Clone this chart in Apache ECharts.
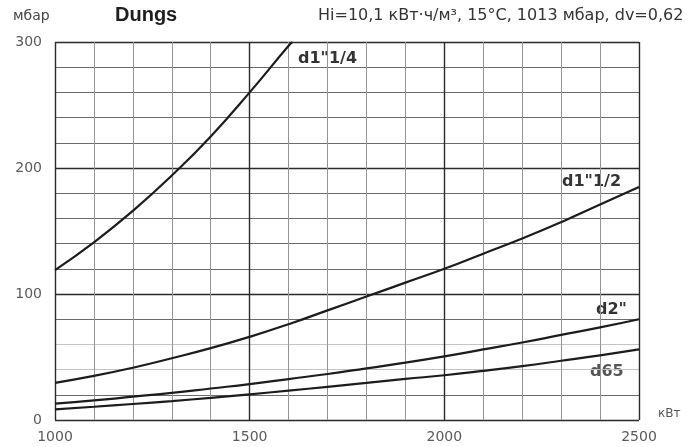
<!DOCTYPE html>
<html>
<head>
<meta charset="utf-8">
<script src="https://cdn.jsdelivr.net/npm/echarts@6/dist/echarts.min.js"></script>
<style>
  html, body { margin: 0; padding: 0; background: #fff; }
  #chart { width: 699px; height: 447px; }
</style>
</head>
<body>
<div id="chart"></div>
<script>
// Gas flow (kW) at which each pressure drop (mbar) was measured
const flow = [1000, 1100, 1200, 1300, 1400, 1500, 1600, 1700, 1800, 1900, 2000, 2100, 2200, 2300, 2400, 2500];

// Pressure drop per fitting size, mbar
const d1_14 = [119, 141, 166, 194, 225, 260, 297];
const d1_14End = [1610, 300];
const d1_12 = [29.5, 35, 41.5, 49, 57, 66, 76, 87, 98, 109, 120, 132, 144, 157, 171, 185];
const d2 = [13, 15.5, 18.5, 21.5, 25, 28.5, 32.5, 36.5, 41, 45.5, 50.5, 56, 61.5, 67.5, 73.5, 80];
const d65 = [8.5, 10.5, 12.7, 15, 17.6, 20.4, 23.3, 26.3, 29.4, 32.6, 35.5, 39, 42.8, 47, 51.3, 56];

const seriesNames = ['d1"1/4', 'd1"1/2', 'd2"', 'd65'];
const xTicks = [1000, 1500, 2000, 2500];
const yTicks = [0, 100, 200, 300];

function pairs(values) {
  return values.map((v, i) => [flow[i], v]);
}

const chart = echarts.init(document.getElementById('chart'), null, { renderer: 'canvas' });

const grid = { left: 55, right: 60, top: 42, bottom: 27, containLabel: false };

// minor grid colours, cycled per tick
const xMinorColors = flow.map((f, i) => (i % 5 === 0 ? '#333' : '#949494'));
const yMinorColors = [];
for (let v = 0; v <= 300; v += 20) {
  if (v % 100 === 0) yMinorColors.push('#333');
  else if (v === 40 || v === 60) yMinorColors.push('#c4c4c4');
  else yMinorColors.push('#6a6a6a');
}

const labelFont = { color: '#5a5a5a', fontFamily: 'DejaVu Sans', fontSize: 14 };

const lineStyle = { color: '#1c1c1c', width: 2.2 };

function lineSeries(name, data) {
  return {
    name: name,
    type: 'line',
    xAxisIndex: 1,
    yAxisIndex: 1,
    data: data,
    smooth: 0.5,
    showSymbol: false,
    lineStyle: lineStyle,
    z: 5
  };
}

chart.setOption({
  animation: false,
  backgroundColor: '#fff',
  grid: grid,
  xAxis: [
    {
      type: 'value', position: 'bottom', min: 1000, max: 2500, interval: 100,
      axisLine: { show: false }, axisTick: { show: false }, axisLabel: { show: false },
      splitLine: { show: true, lineStyle: { color: xMinorColors, width: 1 } }
    },
    {
      type: 'value', position: 'bottom', min: 1000, max: 2500, interval: 500,
      axisLine: { show: false }, axisTick: { show: false },
      axisLabel: Object.assign({ margin: 10, formatter: v => (xTicks.includes(v) ? String(v) : '') }, labelFont),
      splitLine: { show: true, lineStyle: { color: '#2a2a2a', width: 1.4 } }
    }
  ],
  yAxis: [
    {
      type: 'value', position: 'left', min: 0, max: 300, interval: 20,
      axisLine: { show: false }, axisTick: { show: false }, axisLabel: { show: false },
      splitLine: { show: true, lineStyle: { color: yMinorColors, width: 1 } }
    },
    {
      type: 'value', position: 'left', min: 0, max: 300, interval: 100,
      axisLine: { show: false }, axisTick: { show: false },
      axisLabel: Object.assign({ margin: 13, formatter: v => (yTicks.includes(v) ? String(v) : '') }, labelFont),
      splitLine: { show: true, lineStyle: { color: '#2a2a2a', width: 1.4 } }
    }
  ],
  series: [
    lineSeries(seriesNames[0], pairs(d1_14).concat([d1_14End])),
    lineSeries(seriesNames[1], pairs(d1_12)),
    lineSeries(seriesNames[2], pairs(d2)),
    lineSeries(seriesNames[3], pairs(d65))
  ],
  graphic: [
    { type: 'text', left: 13, top: 9, style: { text: 'мбар', fill: '#444', font: '14px "DejaVu Sans"' } },
    { type: 'text', left: 115, top: 5, style: { text: 'Dungs', fill: '#1e1e1e', font: 'bold 20px "Liberation Sans"' } },
    { type: 'text', left: 318, top: 8, style: { text: 'Hi=10,1 кВт·ч/м³, 15°C, 1013 мбар, dv=0,62', fill: '#333', font: '16px "DejaVu Sans"' } },
    { type: 'text', left: 658, top: 408, style: { text: 'кВт', fill: '#555', font: '12px "DejaVu Sans"' } },
    { type: 'text', left: 298, top: 51, style: { text: seriesNames[0], fill: '#333', font: 'bold 16px "DejaVu Sans"' } },
    { type: 'text', left: 562, top: 174, style: { text: seriesNames[1], fill: '#333', font: 'bold 16px "DejaVu Sans"' } },
    { type: 'text', left: 596, top: 302, style: { text: seriesNames[2], fill: '#333', font: 'bold 16px "DejaVu Sans"' } },
    { type: 'text', left: 590, top: 364, style: { text: seriesNames[3], fill: '#555', font: 'bold 16px "DejaVu Sans"' } }
  ]
});
</script>
</body>
</html>
